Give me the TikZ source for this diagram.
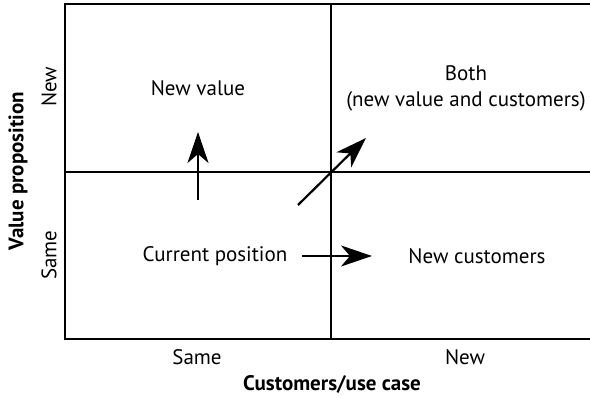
\documentclass[tikz,border=0pt]{standalone}
\usepackage{fontspec}
\setmainfont{PT Sans}
\usetikzlibrary{arrows.meta}

\begin{document}
\begin{tikzpicture}[x=1pt,y=-1pt,
	grid/.style={line width=1.3pt},
	move/.style={line width=2.2pt,-{Stealth[length=31pt,width=21pt,inset=9pt]}},
	lbl/.style={font=\fontsize{21}{26}\selectfont,align=center},
	axis/.style={font=\bfseries\fontsize{21}{24}\selectfont,inner sep=1pt}]
	\useasboundingbox (0,0) rectangle (590,398);
	\draw[grid] (65,4) rectangle (600,339);
	\draw[grid] (331,4) -- (331,339);
	\draw[grid] (65,172) -- (600,172);
	\node[lbl] (newvalue) at (198,88) {New value};
	\node[lbl] (both) at (466,88) {Both\\(new value and customers)};
	\node[lbl] (current) at (215,256) {Current position};
	\node[lbl] (newcust) at (477,256) {New customers};
	\node[lbl] (xsame) at (197,357) {Same};
	\node[lbl] (xnew) at (465,357) {New};
	\node[axis,anchor=base] (xaxis) at (332,391) {Customers/use case};
	\node[lbl,rotate=90] (ynew) at (49,87) {New};
	\node[lbl,rotate=90] (ysame) at (49,255) {Same};
	\node[axis,rotate=90] (yaxis) at (18,171) {Value proposition};
	\coordinate (upfrom) at (198,200);
	\coordinate (upto) at (198,132);
	\coordinate (diagfrom) at (298,205);
	\coordinate (diagto) at (366,138);
	\coordinate (rightfrom) at (302,256);
	\coordinate (rightto) at (372,256);
	\draw[move] (upfrom) -- (upto);
	\draw[move] (diagfrom) -- (diagto);
	\draw[move] (rightfrom) -- (rightto);
\end{tikzpicture}
\end{document}
